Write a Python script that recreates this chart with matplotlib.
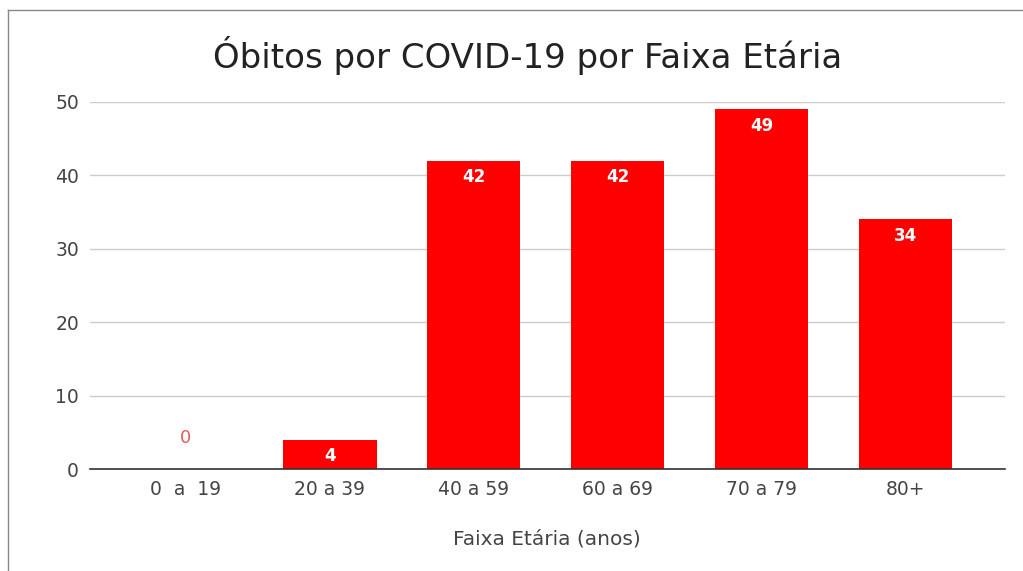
import matplotlib
matplotlib.use("Agg")
import matplotlib.pyplot as plt
from matplotlib.lines import Line2D

categories = ["0  a  19", "20 a 39", "40 a 59", "60 a 69", "70 a 79", "80+"]
obitos = [0, 4, 42, 42, 49, 34]
yticks = [0, 10, 20, 30, 40, 50]

plt.rcParams['font.family'] = ['DejaVu Sans']

fig = plt.figure(figsize=(10.23, 5.71), dpi=100)
ax = fig.add_axes([0.088, 0.1786, 0.894, 0.6428])

x = list(range(len(categories)))
bars = ax.bar(x, obitos, width=0.65, color="#ff0000", zorder=3)

ax.set_xlim(-0.667, len(categories) - 1 + 0.69)
ax.set_ylim(0, 50)
ax.set_yticks(yticks)
ax.set_xticks(x)
ax.set_xticklabels(categories)
ax.tick_params(axis='both', length=0, labelsize=13.5, colors="#444444")
ax.tick_params(axis='y', pad=8)
ax.tick_params(axis='x', pad=8)
ax.grid(axis='y', color="#cccccc", linewidth=1, zorder=0)
for s in ['top', 'right', 'left']:
    ax.spines[s].set_visible(False)
ax.spines['bottom'].set_color("#333333")
ax.spines['bottom'].set_linewidth(1.2)
ax.spines['bottom'].set_zorder(4)

for xi, v in zip(x, obitos):
    if v == 0:
        ax.annotate(str(v), (xi, v), xytext=(0, 22), textcoords='offset points',
                    ha='center', va='center', color="#e85a5a", fontsize=13)
    else:
        ax.annotate(str(v), (xi, v), xytext=(0, -12), textcoords='offset points',
                    ha='center', va='center', color="white", fontsize=12,
                    fontweight='bold', zorder=5)

ax.set_xlabel("Faixa Etária (anos)", fontsize=14.5, color="#444444", labelpad=22)
fig.text(0.5157, 0.902, "Óbitos por COVID-19 por Faixa Etária", ha='center', va='center',
         fontsize=24.5, color="#222222")

# card border (top and left edges)
fig.add_artist(Line2D([8/1023, 1], [1 - 10/571, 1 - 10/571], transform=fig.transFigure,
                      color="#888888", linewidth=1))
fig.add_artist(Line2D([8/1023, 8/1023], [0, 1 - 10/571], transform=fig.transFigure,
                      color="#888888", linewidth=1))

fig.savefig("out.png", dpi=100, facecolor="white")
